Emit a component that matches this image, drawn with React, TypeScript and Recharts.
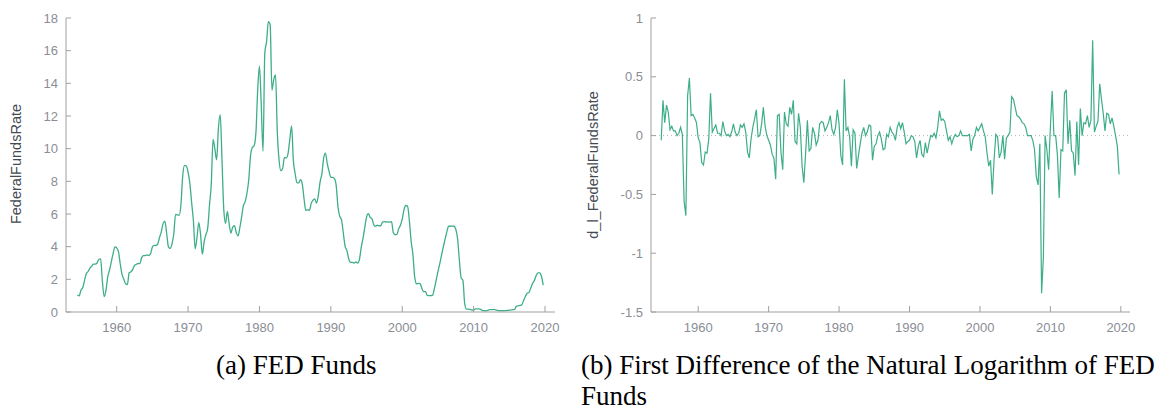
import React from "react";
import { LineChart, Line, XAxis, YAxis, ReferenceLine } from "recharts";

// quarterly effective fed funds rate, first point 1954 Q3
const START_YEAR = 1954.5;
const rate1950s = [
  1.03, 0.99, 1.34, 1.5, 1.94, 2.36, 2.48, 2.69, 2.81, 2.93, 2.93, 3.0, 3.23,
  3.25, 1.86, 0.94, 1.32, 2.16, 2.57, 3.08, 3.58, 3.99,
];
const rate1960s = [
  3.93, 3.7, 2.94, 2.3, 2.0, 1.73, 1.68, 2.4, 2.46, 2.61, 2.85, 2.92, 2.97,
  2.96, 3.33, 3.45, 3.46, 3.49, 3.46, 3.58, 3.97, 4.08, 4.07, 4.17, 4.56, 4.91,
  5.41, 5.56, 4.82, 3.99, 3.89, 4.17, 4.79, 5.98, 5.94, 5.92, 6.57, 8.33, 8.98,
  8.94,
];
const rate1970s = [
  8.57, 7.88, 6.7, 5.57, 3.86, 4.56, 5.47, 4.75, 3.54, 4.3, 4.74, 5.14, 6.54,
  7.82, 10.56, 10.0, 9.32, 11.25, 12.09, 9.35, 6.3, 5.42, 6.16, 5.41, 4.83, 5.2,
  5.28, 4.87, 4.66, 5.16, 5.82, 6.51, 6.76, 7.28, 8.1, 9.58, 10.07, 10.18,
  10.95, 13.58,
];
const rate1980s = [
  15.05, 12.69, 9.84, 15.85, 16.57, 17.78, 17.58, 13.59, 14.23, 14.51, 11.01,
  9.29, 8.65, 8.8, 9.46, 9.43, 9.69, 10.56, 11.39, 9.27, 8.48, 7.92, 7.9, 8.1,
  7.83, 6.92, 6.21, 6.27, 6.22, 6.65, 6.84, 6.92, 6.66, 7.16, 7.98, 8.47, 9.44,
  9.73, 9.08, 8.61,
];
const rate1990s = [
  8.25, 8.24, 8.16, 7.74, 6.43, 5.86, 5.64, 4.82, 4.02, 3.77, 3.26, 3.04, 3.04,
  3.0, 3.06, 2.99, 3.21, 3.94, 4.49, 5.17, 5.81, 6.02, 5.8, 5.72, 5.36, 5.24,
  5.31, 5.28, 5.28, 5.52, 5.53, 5.51, 5.52, 5.5, 5.53, 4.86, 4.73, 4.75, 5.09,
  5.31,
];
const rate2000s = [
  5.68, 6.27, 6.52, 6.47, 5.59, 4.33, 3.5, 2.13, 1.73, 1.75, 1.74, 1.44, 1.25,
  1.25, 1.02, 1.0, 1.0, 1.03, 1.43, 1.95, 2.47, 2.94, 3.46, 3.98, 4.46, 4.91,
  5.25, 5.25, 5.26, 5.25, 5.07, 4.5, 3.18, 2.09, 1.94, 0.51, 0.18, 0.18, 0.16,
  0.12,
];
const rate2010s = [
  0.13, 0.19, 0.19, 0.19, 0.16, 0.09, 0.08, 0.07, 0.1, 0.15, 0.14, 0.16, 0.14,
  0.12, 0.08, 0.09, 0.07, 0.09, 0.09, 0.1, 0.11, 0.13, 0.14, 0.16, 0.36, 0.37,
  0.4, 0.45, 0.7, 0.95, 1.15, 1.2, 1.45, 1.74, 1.92, 2.22, 2.4, 2.4, 2.19, 1.64,
];

// first difference of log rate, first point 1954 Q4
const DIFF_START = 1954.75;
const diff1950s = [
  -0.04, 0.3, 0.11, 0.26, 0.2, 0.05, 0.08, 0.04, 0.04, 0.0, 0.02, 0.07, 0.01,
  -0.56, -0.68, 0.34, 0.49, 0.17, 0.18, 0.15, 0.11,
];
const diff1960s = [
  -0.02, -0.06, -0.23, -0.25, -0.14, -0.15, -0.03, 0.36, 0.03, 0.06, 0.09,
  0.02, 0.02, 0.0, 0.12, 0.04, 0.0, 0.01, -0.01, 0.03, 0.1, 0.03, 0.0, 0.02,
  0.09, 0.07, 0.1, 0.03, -0.14, -0.19, -0.03, 0.07, 0.14, 0.22, -0.01, 0.0,
  0.1, 0.24, 0.08, 0.0,
];
const diff1970s = [
  -0.04, -0.08, -0.16, -0.19, -0.37, 0.17, 0.18, -0.14, -0.29, 0.2, 0.1, 0.08,
  0.24, 0.18, 0.3, -0.05, -0.07, 0.19, 0.07, -0.26, -0.4, -0.15, 0.13, -0.13,
  -0.11, 0.07, 0.02, -0.08, -0.04, 0.1, 0.12, 0.11, 0.04, 0.07, 0.11, 0.17,
  0.05, 0.01, 0.07, 0.22,
];
const diff1980s = [
  0.1, -0.17, -0.25, 0.48, 0.04, 0.07, -0.01, -0.26, 0.05, 0.02, -0.28, -0.17,
  -0.07, 0.02, 0.07, 0.0, 0.03, 0.09, 0.08, -0.21, -0.09, -0.07, 0.0, 0.03,
  -0.03, -0.12, -0.11, 0.01, -0.01, 0.07, 0.03, 0.01, -0.04, 0.07, 0.11, 0.06,
  0.11, 0.03, -0.07, -0.05,
];
const diff1990s = [
  -0.04, 0.0, -0.01, -0.05, -0.19, -0.09, -0.04, -0.16, -0.18, -0.06, -0.15,
  -0.07, 0.0, -0.01, 0.02, -0.02, 0.07, 0.21, 0.13, 0.14, 0.12, 0.04, -0.04,
  -0.01, -0.07, -0.02, 0.01, -0.01, 0.0, 0.04, 0.0, 0.0, 0.0, 0.0, 0.01, -0.13,
  -0.03, 0.0, 0.07, 0.04,
];
const diff2000s = [
  0.07, 0.1, 0.04, -0.01, -0.15, -0.26, -0.21, -0.5, -0.21, 0.01, -0.01, -0.19,
  -0.14, 0.0, -0.2, -0.02, 0.0, 0.03, 0.33, 0.31, 0.24, 0.17, 0.16, 0.14, 0.11,
  0.1, 0.07, 0.0, 0.0, 0.0, -0.04, -0.12, -0.35, -0.42, -0.07, -1.34, -1.04,
  0.0, -0.12, -0.29,
];
const diff2010s = [
  0.08, 0.38, 0.0, 0.0, -0.17, -0.53, -0.12, -0.13, 0.36, 0.39, -0.07, 0.13,
  -0.13, -0.15, -0.34, 0.12, -0.25, 0.23, 0.0, 0.11, 0.1, 0.17, 0.07, 0.13,
  0.81, 0.03, 0.08, 0.12, 0.44, 0.31, 0.19, 0.04, 0.19, 0.18, 0.1, 0.15, 0.08,
  0.0, -0.09, -0.33,
];

const YEAR_TICKS = [1960, 1970, 1980, 1990, 2000, 2010, 2020];
const RATE_TICKS = [0, 2, 4, 6, 8, 10, 12, 14, 16, 18];
const DIFF_TICKS = [-1.5, -1, -0.5, 0, 0.5, 1];

const LINE = "#3dae86";
const AXIS = "#a0a0a0";
const TICK_TEXT = "#8a8e95";
const FONT = "'Liberation Sans', Arial, sans-serif";

const toSeries = (start: number, values: number[]) =>
  values.map((v, i) => ({ x: start + i * 0.25, y: v }));

const rateData = toSeries(START_YEAR, [
  ...rate1950s,
  ...rate1960s,
  ...rate1970s,
  ...rate1980s,
  ...rate1990s,
  ...rate2000s,
  ...rate2010s,
]);
const diffData = toSeries(DIFF_START, [
  ...diff1950s,
  ...diff1960s,
  ...diff1970s,
  ...diff1980s,
  ...diff1990s,
  ...diff2000s,
  ...diff2010s,
]);

// ticks point inwards, so draw the small mark and the label ourselves
const XTick = ({ x, y, payload }: any) => (
  <g>
    <line x1={x} y1={y} x2={x} y2={y - 6} stroke={AXIS} />
    <text
      x={x}
      y={y + 20}
      textAnchor="middle"
      fill={TICK_TEXT}
      fontSize={13}
      fontFamily={FONT}
    >
      {payload.value}
    </text>
  </g>
);

const YTick = ({ x, y, payload }: any) => (
  <g>
    <line x1={x} y1={y} x2={x + 5} y2={y} stroke={AXIS} />
    <text
      x={x - 8}
      y={y + 4.5}
      textAnchor="end"
      fill={TICK_TEXT}
      fontSize={13}
      fontFamily={FONT}
    >
      {payload.value}
    </text>
  </g>
);

const AxisTitle = ({ x, y, text }: { x: number; y: number; text: string }) => (
  <text
    x={x}
    y={y}
    transform={`rotate(-90 ${x} ${y})`}
    textAnchor="middle"
    dominantBaseline="central"
    fill="#444a52"
    fontSize={14.5}
    fontFamily={FONT}
  >
    {text}
  </text>
);

const captionStyle: React.CSSProperties = {
  position: "absolute",
  fontFamily: "'Liberation Serif', 'Times New Roman', serif",
  fontSize: 27,
  lineHeight: "31px",
  color: "#000",
  whiteSpace: "nowrap",
};

export default function App() {
  return (
    <div
      style={{
        position: "absolute",
        left: 0,
        top: 0,
        width: 1162,
        height: 413,
        background: "#fff",
        overflow: "hidden",
      }}
    >
      <div style={{ position: "absolute", left: 0, top: 0 }}>
        <LineChart
          width={580}
          height={346}
          data={rateData}
          margin={{ top: 18, right: 25, bottom: 4, left: 0 }}
        >
          <XAxis
            type="number"
            dataKey="x"
            domain={[1952.9, 2021.4]}
            ticks={YEAR_TICKS}
            allowDataOverflow
            height={30}
            stroke={AXIS}
            tickLine={false}
            tickSize={0}
            tickMargin={0}
            tick={(p: any) => <XTick {...p} />}
          />
          <YAxis
            type="number"
            domain={[0, 18]}
            ticks={RATE_TICKS}
            width={66}
            stroke={AXIS}
            tickLine={false}
            tickSize={0}
            tickMargin={0}
            tick={(p: any) => <YTick {...p} />}
          />
          <Line
            type="monotone"
            dataKey="y"
            stroke={LINE}
            strokeWidth={1.3}
            dot={false}
            isAnimationActive={false}
          />
          <AxisTitle x={16} y={164} text="FederalFundsRate" />
        </LineChart>
      </div>

      <div style={{ position: "absolute", left: 580, top: 0 }}>
        <LineChart
          width={580}
          height={346}
          data={diffData}
          margin={{ top: 18, right: 30, bottom: 4, left: 0 }}
        >
          <XAxis
            type="number"
            dataKey="x"
            domain={[1953.3, 2021.3]}
            ticks={YEAR_TICKS}
            allowDataOverflow
            height={30}
            stroke={AXIS}
            tickLine={false}
            tickSize={0}
            tickMargin={0}
            tick={(p: any) => <XTick {...p} />}
          />
          <YAxis
            type="number"
            domain={[-1.5, 1]}
            ticks={DIFF_TICKS}
            width={71}
            stroke={AXIS}
            tickLine={false}
            tickSize={0}
            tickMargin={0}
            tick={(p: any) => <YTick {...p} />}
          />
          <ReferenceLine y={0} stroke="#b5b5b5" strokeDasharray="1 3" />
          <Line
            type="linear"
            dataKey="y"
            stroke={LINE}
            strokeWidth={1.2}
            dot={false}
            isAnimationActive={false}
          />
          <AxisTitle x={13} y={165} text="d_l_FederalFundsRate" />
        </LineChart>
      </div>

      <div style={{ ...captionStyle, left: 216, top: 350 }}>(a) FED Funds</div>
      <div style={{ ...captionStyle, left: 581, top: 350 }}>
        (b) First Difference of the Natural Logarithm of FED
        <br />
        Funds
      </div>
    </div>
  );
}
